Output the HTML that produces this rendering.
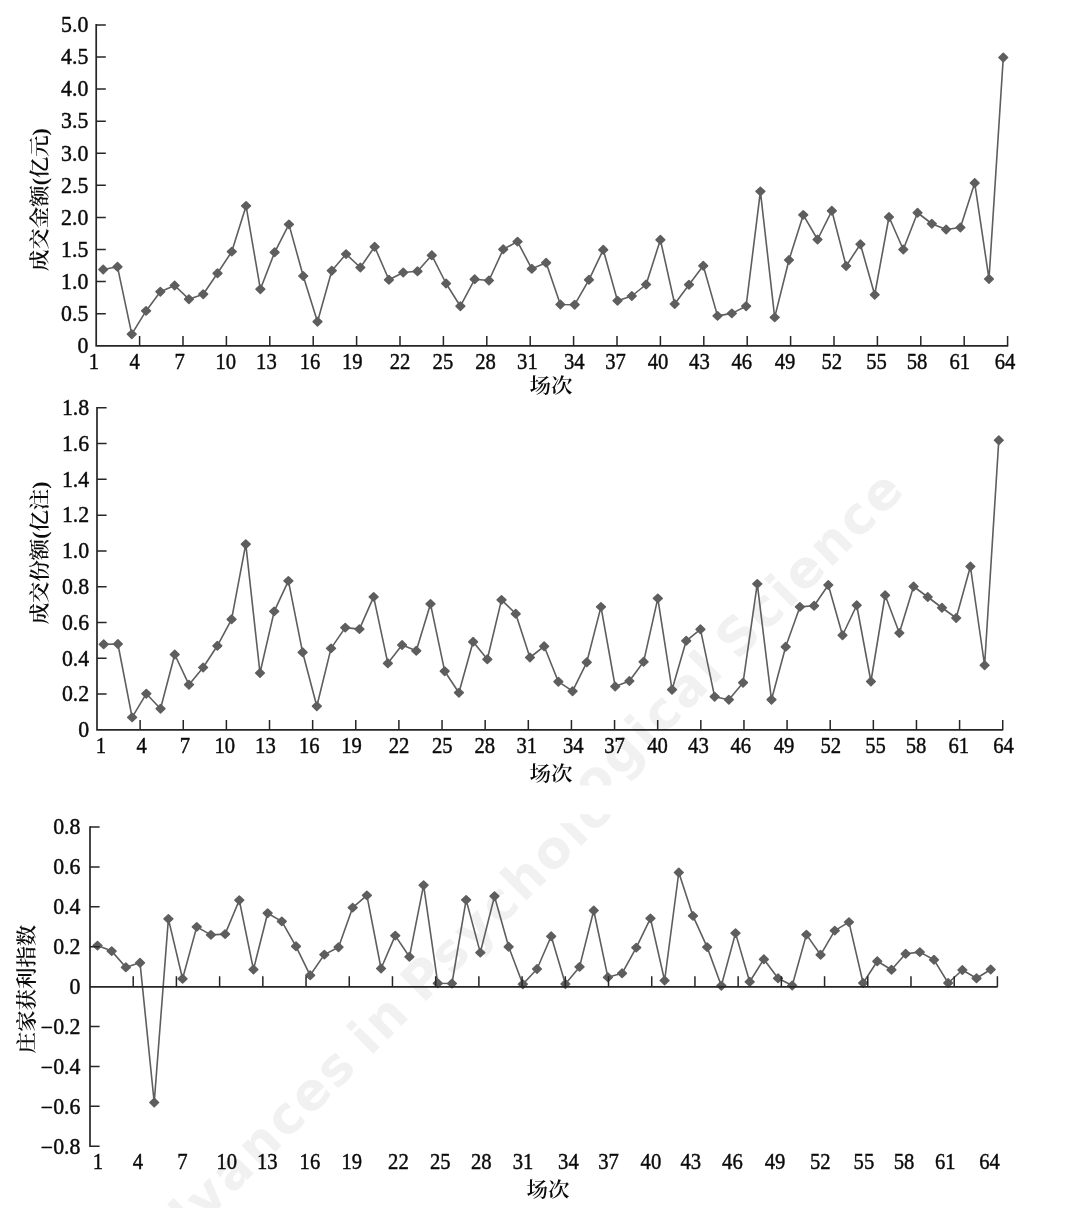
<!DOCTYPE html>
<html lang="zh-CN">
<head>
<meta charset="utf-8">
<title>成交金额、成交份额与庄家获利指数</title>
<style>
html,body{margin:0;padding:0;background:#fff;}
body{width:1074px;height:1232px;overflow:hidden;}
svg{display:block;}
.ax{fill:none;stroke:#262626;stroke-width:1.7;stroke-linecap:butt;stroke-linejoin:miter;}
.tk{fill:none;stroke:#262626;stroke-width:1.5;}
.ln{fill:none;stroke:#5e5d5f;stroke-width:1.6;stroke-linejoin:round;}
.mk{fill:#5e5d5f;stroke:#5e5d5f;stroke-width:1.6;stroke-linejoin:round;}
.n{font-family:"Liberation Serif",serif;font-size:23.6px;fill:#0b0b0b;stroke:#0b0b0b;stroke-width:0.45px;}
.c{font-family:"Liberation Serif","Noto Serif CJK SC",serif;font-size:20.5px;font-weight:600;fill:#0b0b0b;}

.ny{font-size:22.8px;}
.wm{font-family:"DejaVu Sans","Liberation Sans",sans-serif;font-weight:bold;font-size:51.5px;letter-spacing:2.7px;word-spacing:-6px;fill:#f1f1f1;}
</style>
</head>
<body>
<svg width="1074" height="1232" viewBox="0 0 1074 1232">
<rect width="1074" height="1232" fill="#fff"/>
<defs><clipPath id="ca"><rect x="0" y="0" width="1074" height="785.6"/></clipPath><clipPath id="cb"><path d="M0 814.2H540V823.2H571V814.2H1074V1208H0Z"/></clipPath></defs>
<g clip-path="url(#ca)"><text class="wm" transform="translate(907.7 490.8) rotate(-45)" text-anchor="end">ogical Science</text></g>
<g clip-path="url(#cb)"><text class="wm" transform="translate(619.6 807.5) rotate(-45)" text-anchor="end">Advances in Psycholo</text></g>
<g>
<polyline class="ln" points="103.2,269.5 117.49,266.8 131.77,334.2 146.06,310.9 160.35,291.7 174.63,285.5 188.92,299.2 203.21,294.2 217.5,273.3 231.78,251.6 246.07,205.9 260.36,289.2 274.64,252.3 288.93,224.4 303.22,276 317.5,321.7 331.79,270.7 346.08,254.1 360.37,267.5 374.65,246.8 388.94,279.8 403.23,272.5 417.51,271.3 431.8,255.3 446.09,283.5 460.38,306.2 474.66,279.3 488.95,280.5 503.24,249.3 517.52,241.6 531.81,268.8 546.1,262.8 560.38,304.5 574.67,304.7 588.96,279.8 603.25,249.8 617.53,300.7 631.82,296 646.11,284.5 660.39,239.8 674.68,304 688.97,284.7 703.25,265.8 717.54,315.9 731.83,313.4 746.12,306.2 760.4,191.4 774.69,317.4 788.98,260 803.26,214.9 817.55,239.5 831.84,210.8 846.12,266 860.41,244.25 874.7,294.75 888.99,217 903.27,249.5 917.56,212.75 931.85,223.75 946.13,229.5 960.42,227.5 974.71,183 988.99,279 1003.28,57.5"/>
<path class="mk" d="M103.2 265.4l4.3 4.1l-4.3 4.1l-4.3 -4.1zM117.49 262.7l4.3 4.1l-4.3 4.1l-4.3 -4.1zM131.77 330.1l4.3 4.1l-4.3 4.1l-4.3 -4.1zM146.06 306.8l4.3 4.1l-4.3 4.1l-4.3 -4.1zM160.35 287.6l4.3 4.1l-4.3 4.1l-4.3 -4.1zM174.63 281.4l4.3 4.1l-4.3 4.1l-4.3 -4.1zM188.92 295.1l4.3 4.1l-4.3 4.1l-4.3 -4.1zM203.21 290.1l4.3 4.1l-4.3 4.1l-4.3 -4.1zM217.5 269.2l4.3 4.1l-4.3 4.1l-4.3 -4.1zM231.78 247.5l4.3 4.1l-4.3 4.1l-4.3 -4.1zM246.07 201.8l4.3 4.1l-4.3 4.1l-4.3 -4.1zM260.36 285.1l4.3 4.1l-4.3 4.1l-4.3 -4.1zM274.64 248.2l4.3 4.1l-4.3 4.1l-4.3 -4.1zM288.93 220.3l4.3 4.1l-4.3 4.1l-4.3 -4.1zM303.22 271.9l4.3 4.1l-4.3 4.1l-4.3 -4.1zM317.5 317.6l4.3 4.1l-4.3 4.1l-4.3 -4.1zM331.79 266.6l4.3 4.1l-4.3 4.1l-4.3 -4.1zM346.08 250l4.3 4.1l-4.3 4.1l-4.3 -4.1zM360.37 263.4l4.3 4.1l-4.3 4.1l-4.3 -4.1zM374.65 242.7l4.3 4.1l-4.3 4.1l-4.3 -4.1zM388.94 275.7l4.3 4.1l-4.3 4.1l-4.3 -4.1zM403.23 268.4l4.3 4.1l-4.3 4.1l-4.3 -4.1zM417.51 267.2l4.3 4.1l-4.3 4.1l-4.3 -4.1zM431.8 251.2l4.3 4.1l-4.3 4.1l-4.3 -4.1zM446.09 279.4l4.3 4.1l-4.3 4.1l-4.3 -4.1zM460.38 302.1l4.3 4.1l-4.3 4.1l-4.3 -4.1zM474.66 275.2l4.3 4.1l-4.3 4.1l-4.3 -4.1zM488.95 276.4l4.3 4.1l-4.3 4.1l-4.3 -4.1zM503.24 245.2l4.3 4.1l-4.3 4.1l-4.3 -4.1zM517.52 237.5l4.3 4.1l-4.3 4.1l-4.3 -4.1zM531.81 264.7l4.3 4.1l-4.3 4.1l-4.3 -4.1zM546.1 258.7l4.3 4.1l-4.3 4.1l-4.3 -4.1zM560.38 300.4l4.3 4.1l-4.3 4.1l-4.3 -4.1zM574.67 300.6l4.3 4.1l-4.3 4.1l-4.3 -4.1zM588.96 275.7l4.3 4.1l-4.3 4.1l-4.3 -4.1zM603.25 245.7l4.3 4.1l-4.3 4.1l-4.3 -4.1zM617.53 296.6l4.3 4.1l-4.3 4.1l-4.3 -4.1zM631.82 291.9l4.3 4.1l-4.3 4.1l-4.3 -4.1zM646.11 280.4l4.3 4.1l-4.3 4.1l-4.3 -4.1zM660.39 235.7l4.3 4.1l-4.3 4.1l-4.3 -4.1zM674.68 299.9l4.3 4.1l-4.3 4.1l-4.3 -4.1zM688.97 280.6l4.3 4.1l-4.3 4.1l-4.3 -4.1zM703.25 261.7l4.3 4.1l-4.3 4.1l-4.3 -4.1zM717.54 311.8l4.3 4.1l-4.3 4.1l-4.3 -4.1zM731.83 309.3l4.3 4.1l-4.3 4.1l-4.3 -4.1zM746.12 302.1l4.3 4.1l-4.3 4.1l-4.3 -4.1zM760.4 187.3l4.3 4.1l-4.3 4.1l-4.3 -4.1zM774.69 313.3l4.3 4.1l-4.3 4.1l-4.3 -4.1zM788.98 255.9l4.3 4.1l-4.3 4.1l-4.3 -4.1zM803.26 210.8l4.3 4.1l-4.3 4.1l-4.3 -4.1zM817.55 235.4l4.3 4.1l-4.3 4.1l-4.3 -4.1zM831.84 206.7l4.3 4.1l-4.3 4.1l-4.3 -4.1zM846.12 261.9l4.3 4.1l-4.3 4.1l-4.3 -4.1zM860.41 240.15l4.3 4.1l-4.3 4.1l-4.3 -4.1zM874.7 290.65l4.3 4.1l-4.3 4.1l-4.3 -4.1zM888.99 212.9l4.3 4.1l-4.3 4.1l-4.3 -4.1zM903.27 245.4l4.3 4.1l-4.3 4.1l-4.3 -4.1zM917.56 208.65l4.3 4.1l-4.3 4.1l-4.3 -4.1zM931.85 219.65l4.3 4.1l-4.3 4.1l-4.3 -4.1zM946.13 225.4l4.3 4.1l-4.3 4.1l-4.3 -4.1zM960.42 223.4l4.3 4.1l-4.3 4.1l-4.3 -4.1zM974.71 178.9l4.3 4.1l-4.3 4.1l-4.3 -4.1zM988.99 274.9l4.3 4.1l-4.3 4.1l-4.3 -4.1zM1003.28 53.4l4.3 4.1l-4.3 4.1l-4.3 -4.1z"/>
<path class="ax" d="M96.2 24.1V345.8H1008.2"/>
<path class="tk" d="M96.2 24.9h9.6M96.2 56.99h9.6M96.2 89.08h9.6M96.2 121.17h9.6M96.2 153.26h9.6M96.2 185.35h9.6M96.2 217.44h9.6M96.2 249.53h9.6M96.2 281.62h9.6M96.2 313.71h9.6M139.6 345.8v-9.8M183 345.8v-9.8M226.4 345.8v-9.8M269.8 345.8v-9.8M313.2 345.8v-9.8M356.6 345.8v-9.8M400 345.8v-9.8M443.4 345.8v-9.8M486.8 345.8v-9.8M530.2 345.8v-9.8M573.6 345.8v-9.8M617 345.8v-9.8M660.4 345.8v-9.8M703.8 345.8v-9.8M747.2 345.8v-9.8M790.6 345.8v-9.8M834 345.8v-9.8M877.4 345.8v-9.8M920.8 345.8v-9.8M964.2 345.8v-9.8M1007.6 345.8v-9.8"/>
<text class="n ny" transform="translate(88.3 32.2) scale(0.957 1)" text-anchor="end">5.0</text>
<text class="n ny" transform="translate(88.3 64.29) scale(0.957 1)" text-anchor="end">4.5</text>
<text class="n ny" transform="translate(88.3 96.38) scale(0.957 1)" text-anchor="end">4.0</text>
<text class="n ny" transform="translate(88.3 128.47) scale(0.957 1)" text-anchor="end">3.5</text>
<text class="n ny" transform="translate(88.3 160.56) scale(0.957 1)" text-anchor="end">3.0</text>
<text class="n ny" transform="translate(88.3 192.65) scale(0.957 1)" text-anchor="end">2.5</text>
<text class="n ny" transform="translate(88.3 224.74) scale(0.957 1)" text-anchor="end">2.0</text>
<text class="n ny" transform="translate(88.3 256.83) scale(0.957 1)" text-anchor="end">1.5</text>
<text class="n ny" transform="translate(88.3 288.92) scale(0.957 1)" text-anchor="end">1.0</text>
<text class="n ny" transform="translate(88.3 321.01) scale(0.957 1)" text-anchor="end">0.5</text>
<text class="n ny" transform="translate(88.3 353.1) scale(0.957 1)" text-anchor="end">0</text>
<text class="n" transform="translate(94 369.3) scale(0.875 1)" text-anchor="middle">1</text>
<text class="n" transform="translate(134.6 369.3) scale(0.875 1)" text-anchor="middle">4</text>
<text class="n" transform="translate(179.6 369.3) scale(0.875 1)" text-anchor="middle">7</text>
<text class="n" transform="translate(225.8 369.3) scale(0.875 1)" text-anchor="middle">10</text>
<text class="n" transform="translate(266.4 369.3) scale(0.875 1)" text-anchor="middle">13</text>
<text class="n" transform="translate(310 369.3) scale(0.875 1)" text-anchor="middle">16</text>
<text class="n" transform="translate(352.2 369.3) scale(0.875 1)" text-anchor="middle">19</text>
<text class="n" transform="translate(400.1 369.3) scale(0.875 1)" text-anchor="middle">22</text>
<text class="n" transform="translate(442.9 369.3) scale(0.875 1)" text-anchor="middle">25</text>
<text class="n" transform="translate(485.5 369.3) scale(0.875 1)" text-anchor="middle">28</text>
<text class="n" transform="translate(527.4 369.3) scale(0.875 1)" text-anchor="middle">31</text>
<text class="n" transform="translate(574.3 369.3) scale(0.875 1)" text-anchor="middle">34</text>
<text class="n" transform="translate(615.6 369.3) scale(0.875 1)" text-anchor="middle">37</text>
<text class="n" transform="translate(658.1 369.3) scale(0.875 1)" text-anchor="middle">40</text>
<text class="n" transform="translate(699.4 369.3) scale(0.875 1)" text-anchor="middle">43</text>
<text class="n" transform="translate(741.8 369.3) scale(0.875 1)" text-anchor="middle">46</text>
<text class="n" transform="translate(785.1 369.3) scale(0.875 1)" text-anchor="middle">49</text>
<text class="n" transform="translate(831.7 369.3) scale(0.875 1)" text-anchor="middle">52</text>
<text class="n" transform="translate(876.6 369.3) scale(0.875 1)" text-anchor="middle">55</text>
<text class="n" transform="translate(917.1 369.3) scale(0.875 1)" text-anchor="middle">58</text>
<text class="n" transform="translate(959.7 369.3) scale(0.875 1)" text-anchor="middle">61</text>
<text class="n" transform="translate(1005 369.3) scale(0.875 1)" text-anchor="middle">64</text>
<text class="c" transform="translate(551 392.7) scale(1.05 1)" text-anchor="middle">场次</text>
<text class="c" transform="translate(47.4 199.6) rotate(-90) scale(1.045 1)" text-anchor="middle">成交金额(亿元)</text>
</g>
<g>
<polyline class="ln" points="103.7,644.3 117.91,644 132.12,717.4 146.32,693.7 160.53,708.7 174.74,654.5 188.95,684.7 203.16,667.5 217.36,645.8 231.57,619.3 245.78,544.2 259.99,673 274.2,611.4 288.4,580.9 302.61,652.3 316.82,706.2 331.03,648.4 345.24,627.6 359.44,629.1 373.65,596.9 387.86,663.3 402.07,645 416.28,650.8 430.48,603.9 444.69,671.2 458.9,692.7 473.11,641.8 487.32,659.3 501.52,599.9 515.73,613.8 529.94,657.5 544.15,646.3 558.36,681.7 572.56,691.2 586.77,662.3 600.98,606.9 615.19,686.5 629.4,681 643.6,661.8 657.81,598.4 672.02,689.7 686.23,640.8 700.44,629.3 714.64,696.7 728.85,699.7 743.06,682.7 757.27,583.9 771.48,699.7 785.68,646.8 799.89,606.9 814.1,605.8 828.31,585 842.52,635.25 856.72,605.25 870.93,681.5 885.14,595.25 899.35,633 913.56,586.5 927.76,597 941.97,607.75 956.18,618 970.39,566.5 984.6,665.25 998.8,440.25"/>
<path class="mk" d="M103.7 640.2l4.3 4.1l-4.3 4.1l-4.3 -4.1zM117.91 639.9l4.3 4.1l-4.3 4.1l-4.3 -4.1zM132.12 713.3l4.3 4.1l-4.3 4.1l-4.3 -4.1zM146.32 689.6l4.3 4.1l-4.3 4.1l-4.3 -4.1zM160.53 704.6l4.3 4.1l-4.3 4.1l-4.3 -4.1zM174.74 650.4l4.3 4.1l-4.3 4.1l-4.3 -4.1zM188.95 680.6l4.3 4.1l-4.3 4.1l-4.3 -4.1zM203.16 663.4l4.3 4.1l-4.3 4.1l-4.3 -4.1zM217.36 641.7l4.3 4.1l-4.3 4.1l-4.3 -4.1zM231.57 615.2l4.3 4.1l-4.3 4.1l-4.3 -4.1zM245.78 540.1l4.3 4.1l-4.3 4.1l-4.3 -4.1zM259.99 668.9l4.3 4.1l-4.3 4.1l-4.3 -4.1zM274.2 607.3l4.3 4.1l-4.3 4.1l-4.3 -4.1zM288.4 576.8l4.3 4.1l-4.3 4.1l-4.3 -4.1zM302.61 648.2l4.3 4.1l-4.3 4.1l-4.3 -4.1zM316.82 702.1l4.3 4.1l-4.3 4.1l-4.3 -4.1zM331.03 644.3l4.3 4.1l-4.3 4.1l-4.3 -4.1zM345.24 623.5l4.3 4.1l-4.3 4.1l-4.3 -4.1zM359.44 625l4.3 4.1l-4.3 4.1l-4.3 -4.1zM373.65 592.8l4.3 4.1l-4.3 4.1l-4.3 -4.1zM387.86 659.2l4.3 4.1l-4.3 4.1l-4.3 -4.1zM402.07 640.9l4.3 4.1l-4.3 4.1l-4.3 -4.1zM416.28 646.7l4.3 4.1l-4.3 4.1l-4.3 -4.1zM430.48 599.8l4.3 4.1l-4.3 4.1l-4.3 -4.1zM444.69 667.1l4.3 4.1l-4.3 4.1l-4.3 -4.1zM458.9 688.6l4.3 4.1l-4.3 4.1l-4.3 -4.1zM473.11 637.7l4.3 4.1l-4.3 4.1l-4.3 -4.1zM487.32 655.2l4.3 4.1l-4.3 4.1l-4.3 -4.1zM501.52 595.8l4.3 4.1l-4.3 4.1l-4.3 -4.1zM515.73 609.7l4.3 4.1l-4.3 4.1l-4.3 -4.1zM529.94 653.4l4.3 4.1l-4.3 4.1l-4.3 -4.1zM544.15 642.2l4.3 4.1l-4.3 4.1l-4.3 -4.1zM558.36 677.6l4.3 4.1l-4.3 4.1l-4.3 -4.1zM572.56 687.1l4.3 4.1l-4.3 4.1l-4.3 -4.1zM586.77 658.2l4.3 4.1l-4.3 4.1l-4.3 -4.1zM600.98 602.8l4.3 4.1l-4.3 4.1l-4.3 -4.1zM615.19 682.4l4.3 4.1l-4.3 4.1l-4.3 -4.1zM629.4 676.9l4.3 4.1l-4.3 4.1l-4.3 -4.1zM643.6 657.7l4.3 4.1l-4.3 4.1l-4.3 -4.1zM657.81 594.3l4.3 4.1l-4.3 4.1l-4.3 -4.1zM672.02 685.6l4.3 4.1l-4.3 4.1l-4.3 -4.1zM686.23 636.7l4.3 4.1l-4.3 4.1l-4.3 -4.1zM700.44 625.2l4.3 4.1l-4.3 4.1l-4.3 -4.1zM714.64 692.6l4.3 4.1l-4.3 4.1l-4.3 -4.1zM728.85 695.6l4.3 4.1l-4.3 4.1l-4.3 -4.1zM743.06 678.6l4.3 4.1l-4.3 4.1l-4.3 -4.1zM757.27 579.8l4.3 4.1l-4.3 4.1l-4.3 -4.1zM771.48 695.6l4.3 4.1l-4.3 4.1l-4.3 -4.1zM785.68 642.7l4.3 4.1l-4.3 4.1l-4.3 -4.1zM799.89 602.8l4.3 4.1l-4.3 4.1l-4.3 -4.1zM814.1 601.7l4.3 4.1l-4.3 4.1l-4.3 -4.1zM828.31 580.9l4.3 4.1l-4.3 4.1l-4.3 -4.1zM842.52 631.15l4.3 4.1l-4.3 4.1l-4.3 -4.1zM856.72 601.15l4.3 4.1l-4.3 4.1l-4.3 -4.1zM870.93 677.4l4.3 4.1l-4.3 4.1l-4.3 -4.1zM885.14 591.15l4.3 4.1l-4.3 4.1l-4.3 -4.1zM899.35 628.9l4.3 4.1l-4.3 4.1l-4.3 -4.1zM913.56 582.4l4.3 4.1l-4.3 4.1l-4.3 -4.1zM927.76 592.9l4.3 4.1l-4.3 4.1l-4.3 -4.1zM941.97 603.65l4.3 4.1l-4.3 4.1l-4.3 -4.1zM956.18 613.9l4.3 4.1l-4.3 4.1l-4.3 -4.1zM970.39 562.4l4.3 4.1l-4.3 4.1l-4.3 -4.1zM984.6 661.15l4.3 4.1l-4.3 4.1l-4.3 -4.1zM998.8 436.15l4.3 4.1l-4.3 4.1l-4.3 -4.1z"/>
<path class="ax" d="M97.0 407V729.8H1003.2"/>
<path class="tk" d="M97.0 407.8h9.6M97.0 443.58h9.6M97.0 479.36h9.6M97.0 515.14h9.6M97.0 550.92h9.6M97.0 586.7h9.6M97.0 622.48h9.6M97.0 658.26h9.6M97.0 694.04h9.6M140.13 729.8v-9.8M183.26 729.8v-9.8M226.39 729.8v-9.8M269.52 729.8v-9.8M312.65 729.8v-9.8M355.78 729.8v-9.8M398.91 729.8v-9.8M442.04 729.8v-9.8M485.17 729.8v-9.8M528.3 729.8v-9.8M571.43 729.8v-9.8M614.56 729.8v-9.8M657.69 729.8v-9.8M700.82 729.8v-9.8M743.95 729.8v-9.8M787.08 729.8v-9.8M830.21 729.8v-9.8M873.34 729.8v-9.8M916.47 729.8v-9.8M959.6 729.8v-9.8M1002.73 729.8v-9.8"/>
<text class="n ny" transform="translate(89.2 415.1) scale(0.957 1)" text-anchor="end">1.8</text>
<text class="n ny" transform="translate(89.2 450.88) scale(0.957 1)" text-anchor="end">1.6</text>
<text class="n ny" transform="translate(89.2 486.66) scale(0.957 1)" text-anchor="end">1.4</text>
<text class="n ny" transform="translate(89.2 522.44) scale(0.957 1)" text-anchor="end">1.2</text>
<text class="n ny" transform="translate(89.2 558.22) scale(0.957 1)" text-anchor="end">1.0</text>
<text class="n ny" transform="translate(89.2 594) scale(0.957 1)" text-anchor="end">0.8</text>
<text class="n ny" transform="translate(89.2 629.78) scale(0.957 1)" text-anchor="end">0.6</text>
<text class="n ny" transform="translate(89.2 665.56) scale(0.957 1)" text-anchor="end">0.4</text>
<text class="n ny" transform="translate(89.2 701.34) scale(0.957 1)" text-anchor="end">0.2</text>
<text class="n ny" transform="translate(89.2 737.12) scale(0.957 1)" text-anchor="end">0</text>
<text class="n" transform="translate(100.8 753.2) scale(0.875 1)" text-anchor="middle">1</text>
<text class="n" transform="translate(141.7 753.2) scale(0.875 1)" text-anchor="middle">4</text>
<text class="n" transform="translate(184.9 753.2) scale(0.875 1)" text-anchor="middle">7</text>
<text class="n" transform="translate(224.8 753.2) scale(0.875 1)" text-anchor="middle">10</text>
<text class="n" transform="translate(265.4 753.2) scale(0.875 1)" text-anchor="middle">13</text>
<text class="n" transform="translate(309.3 753.2) scale(0.875 1)" text-anchor="middle">16</text>
<text class="n" transform="translate(351.5 753.2) scale(0.875 1)" text-anchor="middle">19</text>
<text class="n" transform="translate(399.1 753.2) scale(0.875 1)" text-anchor="middle">22</text>
<text class="n" transform="translate(442.2 753.2) scale(0.875 1)" text-anchor="middle">25</text>
<text class="n" transform="translate(484.8 753.2) scale(0.875 1)" text-anchor="middle">28</text>
<text class="n" transform="translate(526.7 753.2) scale(0.875 1)" text-anchor="middle">31</text>
<text class="n" transform="translate(573.3 753.2) scale(0.875 1)" text-anchor="middle">34</text>
<text class="n" transform="translate(614.6 753.2) scale(0.875 1)" text-anchor="middle">37</text>
<text class="n" transform="translate(657.5 753.2) scale(0.875 1)" text-anchor="middle">40</text>
<text class="n" transform="translate(698.4 753.2) scale(0.875 1)" text-anchor="middle">43</text>
<text class="n" transform="translate(740.8 753.2) scale(0.875 1)" text-anchor="middle">46</text>
<text class="n" transform="translate(784.1 753.2) scale(0.875 1)" text-anchor="middle">49</text>
<text class="n" transform="translate(830.7 753.2) scale(0.875 1)" text-anchor="middle">52</text>
<text class="n" transform="translate(875.6 753.2) scale(0.875 1)" text-anchor="middle">55</text>
<text class="n" transform="translate(916.1 753.2) scale(0.875 1)" text-anchor="middle">58</text>
<text class="n" transform="translate(958.7 753.2) scale(0.875 1)" text-anchor="middle">61</text>
<text class="n" transform="translate(1003.6 753.2) scale(0.875 1)" text-anchor="middle">64</text>
<text class="c" transform="translate(551 780.5) scale(1.05 1)" text-anchor="middle">场次</text>
<text class="c" transform="translate(47.0 553) rotate(-90) scale(1.045 1)" text-anchor="middle">成交份额(亿注)</text>
</g>
<g>
<polyline class="ln" points="97.5,945.6 111.68,951.1 125.86,967.3 140.03,962.8 154.21,1102.5 168.39,918.9 182.57,978.8 196.75,926.9 210.92,934.9 225.1,934.1 239.28,900.2 253.46,969.5 267.64,913.2 281.81,921.4 295.99,946.3 310.17,975.3 324.35,954.6 338.53,947.2 352.7,907.6 366.88,895.4 381.06,968.5 395.24,935.6 409.42,956.8 423.59,885.2 437.77,983.3 451.95,983.5 466.13,899.9 480.31,952.6 494.48,896.2 508.66,946.8 522.84,984.2 537.02,969 551.2,936.3 565.37,984 579.55,966.9 593.73,910.5 607.91,977.3 622.09,973.3 636.26,947.6 650.44,918.4 664.62,980.5 678.8,872.5 692.98,915.9 707.15,947.1 721.33,985.7 735.51,933.1 749.69,981.8 763.87,959.3 778.04,978.3 792.22,985.5 806.4,934.6 820.58,954.8 834.76,930.6 848.93,922.1 863.11,983 877.29,961.3 891.47,969.8 905.65,953.8 919.82,952.1 934,959.8 948.18,983 962.36,970 976.54,978.3 990.71,969.5"/>
<path class="mk" d="M97.5 941.5l4.3 4.1l-4.3 4.1l-4.3 -4.1zM111.68 947l4.3 4.1l-4.3 4.1l-4.3 -4.1zM125.86 963.2l4.3 4.1l-4.3 4.1l-4.3 -4.1zM140.03 958.7l4.3 4.1l-4.3 4.1l-4.3 -4.1zM154.21 1098.4l4.3 4.1l-4.3 4.1l-4.3 -4.1zM168.39 914.8l4.3 4.1l-4.3 4.1l-4.3 -4.1zM182.57 974.7l4.3 4.1l-4.3 4.1l-4.3 -4.1zM196.75 922.8l4.3 4.1l-4.3 4.1l-4.3 -4.1zM210.92 930.8l4.3 4.1l-4.3 4.1l-4.3 -4.1zM225.1 930l4.3 4.1l-4.3 4.1l-4.3 -4.1zM239.28 896.1l4.3 4.1l-4.3 4.1l-4.3 -4.1zM253.46 965.4l4.3 4.1l-4.3 4.1l-4.3 -4.1zM267.64 909.1l4.3 4.1l-4.3 4.1l-4.3 -4.1zM281.81 917.3l4.3 4.1l-4.3 4.1l-4.3 -4.1zM295.99 942.2l4.3 4.1l-4.3 4.1l-4.3 -4.1zM310.17 971.2l4.3 4.1l-4.3 4.1l-4.3 -4.1zM324.35 950.5l4.3 4.1l-4.3 4.1l-4.3 -4.1zM338.53 943.1l4.3 4.1l-4.3 4.1l-4.3 -4.1zM352.7 903.5l4.3 4.1l-4.3 4.1l-4.3 -4.1zM366.88 891.3l4.3 4.1l-4.3 4.1l-4.3 -4.1zM381.06 964.4l4.3 4.1l-4.3 4.1l-4.3 -4.1zM395.24 931.5l4.3 4.1l-4.3 4.1l-4.3 -4.1zM409.42 952.7l4.3 4.1l-4.3 4.1l-4.3 -4.1zM423.59 881.1l4.3 4.1l-4.3 4.1l-4.3 -4.1zM437.77 979.2l4.3 4.1l-4.3 4.1l-4.3 -4.1zM451.95 979.4l4.3 4.1l-4.3 4.1l-4.3 -4.1zM466.13 895.8l4.3 4.1l-4.3 4.1l-4.3 -4.1zM480.31 948.5l4.3 4.1l-4.3 4.1l-4.3 -4.1zM494.48 892.1l4.3 4.1l-4.3 4.1l-4.3 -4.1zM508.66 942.7l4.3 4.1l-4.3 4.1l-4.3 -4.1zM522.84 980.1l4.3 4.1l-4.3 4.1l-4.3 -4.1zM537.02 964.9l4.3 4.1l-4.3 4.1l-4.3 -4.1zM551.2 932.2l4.3 4.1l-4.3 4.1l-4.3 -4.1zM565.37 979.9l4.3 4.1l-4.3 4.1l-4.3 -4.1zM579.55 962.8l4.3 4.1l-4.3 4.1l-4.3 -4.1zM593.73 906.4l4.3 4.1l-4.3 4.1l-4.3 -4.1zM607.91 973.2l4.3 4.1l-4.3 4.1l-4.3 -4.1zM622.09 969.2l4.3 4.1l-4.3 4.1l-4.3 -4.1zM636.26 943.5l4.3 4.1l-4.3 4.1l-4.3 -4.1zM650.44 914.3l4.3 4.1l-4.3 4.1l-4.3 -4.1zM664.62 976.4l4.3 4.1l-4.3 4.1l-4.3 -4.1zM678.8 868.4l4.3 4.1l-4.3 4.1l-4.3 -4.1zM692.98 911.8l4.3 4.1l-4.3 4.1l-4.3 -4.1zM707.15 943l4.3 4.1l-4.3 4.1l-4.3 -4.1zM721.33 981.6l4.3 4.1l-4.3 4.1l-4.3 -4.1zM735.51 929l4.3 4.1l-4.3 4.1l-4.3 -4.1zM749.69 977.7l4.3 4.1l-4.3 4.1l-4.3 -4.1zM763.87 955.2l4.3 4.1l-4.3 4.1l-4.3 -4.1zM778.04 974.2l4.3 4.1l-4.3 4.1l-4.3 -4.1zM792.22 981.4l4.3 4.1l-4.3 4.1l-4.3 -4.1zM806.4 930.5l4.3 4.1l-4.3 4.1l-4.3 -4.1zM820.58 950.7l4.3 4.1l-4.3 4.1l-4.3 -4.1zM834.76 926.5l4.3 4.1l-4.3 4.1l-4.3 -4.1zM848.93 918l4.3 4.1l-4.3 4.1l-4.3 -4.1zM863.11 978.9l4.3 4.1l-4.3 4.1l-4.3 -4.1zM877.29 957.2l4.3 4.1l-4.3 4.1l-4.3 -4.1zM891.47 965.7l4.3 4.1l-4.3 4.1l-4.3 -4.1zM905.65 949.7l4.3 4.1l-4.3 4.1l-4.3 -4.1zM919.82 948l4.3 4.1l-4.3 4.1l-4.3 -4.1zM934 955.7l4.3 4.1l-4.3 4.1l-4.3 -4.1zM948.18 978.9l4.3 4.1l-4.3 4.1l-4.3 -4.1zM962.36 965.9l4.3 4.1l-4.3 4.1l-4.3 -4.1zM976.54 974.2l4.3 4.1l-4.3 4.1l-4.3 -4.1zM990.71 965.4l4.3 4.1l-4.3 4.1l-4.3 -4.1z"/>
<path class="ax" d="M90.0 826.2V1147M90.0 986.8H997.6"/>
<path class="tk" d="M90.0 827h9.6M90.0 866.9h9.6M90.0 906.8h9.6M90.0 946.7h9.6M90.0 1026.5h9.6M90.0 1066.4h9.6M90.0 1106.3h9.6M90.0 1146.2h9.6M133.21 986.8v-10.6M176.42 986.8v-10.6M219.63 986.8v-10.6M262.84 986.8v-10.6M306.05 986.8v-10.6M349.26 986.8v-10.6M392.47 986.8v-10.6M435.68 986.8v-10.6M478.89 986.8v-10.6M522.1 986.8v-10.6M565.31 986.8v-10.6M608.52 986.8v-10.6M651.73 986.8v-10.6M694.94 986.8v-10.6M738.15 986.8v-10.6M781.36 986.8v-10.6M824.57 986.8v-10.6M867.78 986.8v-10.6M910.99 986.8v-10.6M954.2 986.8v-10.6M997.41 986.8v-10.6"/>
<text class="n ny" transform="translate(80.4 834.3) scale(0.957 1)" text-anchor="end">0.8</text>
<text class="n ny" transform="translate(80.4 874.2) scale(0.957 1)" text-anchor="end">0.6</text>
<text class="n ny" transform="translate(80.4 914.1) scale(0.957 1)" text-anchor="end">0.4</text>
<text class="n ny" transform="translate(80.4 954) scale(0.957 1)" text-anchor="end">0.2</text>
<text class="n ny" transform="translate(80.4 993.9) scale(0.957 1)" text-anchor="end">0</text>
<text class="n ny" transform="translate(80.4 1033.8) scale(0.957 1)" text-anchor="end"><tspan dy="1.6">−</tspan><tspan dy="-1.6">0.2</tspan></text>
<text class="n ny" transform="translate(80.4 1073.7) scale(0.957 1)" text-anchor="end"><tspan dy="1.6">−</tspan><tspan dy="-1.6">0.4</tspan></text>
<text class="n ny" transform="translate(80.4 1113.6) scale(0.957 1)" text-anchor="end"><tspan dy="1.6">−</tspan><tspan dy="-1.6">0.6</tspan></text>
<text class="n ny" transform="translate(80.4 1153.5) scale(0.957 1)" text-anchor="end"><tspan dy="1.6">−</tspan><tspan dy="-1.6">0.8</tspan></text>
<text class="n" transform="translate(98 1168.7) scale(0.875 1)" text-anchor="middle">1</text>
<text class="n" transform="translate(137.9 1168.7) scale(0.875 1)" text-anchor="middle">4</text>
<text class="n" transform="translate(182.5 1168.7) scale(0.875 1)" text-anchor="middle">7</text>
<text class="n" transform="translate(226.7 1168.7) scale(0.875 1)" text-anchor="middle">10</text>
<text class="n" transform="translate(267.3 1168.7) scale(0.875 1)" text-anchor="middle">13</text>
<text class="n" transform="translate(309.9 1168.7) scale(0.875 1)" text-anchor="middle">16</text>
<text class="n" transform="translate(351.8 1168.7) scale(0.875 1)" text-anchor="middle">19</text>
<text class="n" transform="translate(398.4 1168.7) scale(0.875 1)" text-anchor="middle">22</text>
<text class="n" transform="translate(440.3 1168.7) scale(0.875 1)" text-anchor="middle">25</text>
<text class="n" transform="translate(481.2 1168.7) scale(0.875 1)" text-anchor="middle">28</text>
<text class="n" transform="translate(523.1 1168.7) scale(0.875 1)" text-anchor="middle">31</text>
<text class="n" transform="translate(568.4 1168.7) scale(0.875 1)" text-anchor="middle">34</text>
<text class="n" transform="translate(608.6 1168.7) scale(0.875 1)" text-anchor="middle">37</text>
<text class="n" transform="translate(650.9 1168.7) scale(0.875 1)" text-anchor="middle">40</text>
<text class="n" transform="translate(690.8 1168.7) scale(0.875 1)" text-anchor="middle">43</text>
<text class="n" transform="translate(732.4 1168.7) scale(0.875 1)" text-anchor="middle">46</text>
<text class="n" transform="translate(775 1168.7) scale(0.875 1)" text-anchor="middle">49</text>
<text class="n" transform="translate(820.3 1168.7) scale(0.875 1)" text-anchor="middle">52</text>
<text class="n" transform="translate(863.9 1168.7) scale(0.875 1)" text-anchor="middle">55</text>
<text class="n" transform="translate(904.1 1168.7) scale(0.875 1)" text-anchor="middle">58</text>
<text class="n" transform="translate(945.3 1168.7) scale(0.875 1)" text-anchor="middle">61</text>
<text class="n" transform="translate(989.6 1168.7) scale(0.875 1)" text-anchor="middle">64</text>
<text class="c" transform="translate(548 1196.5) scale(1.05 1)" text-anchor="middle">场次</text>
<text class="c" transform="translate(34.4 989) rotate(-90) scale(1.045 1)" text-anchor="middle">庄家获利指数</text>
</g>
</svg>
</body>
</html>
